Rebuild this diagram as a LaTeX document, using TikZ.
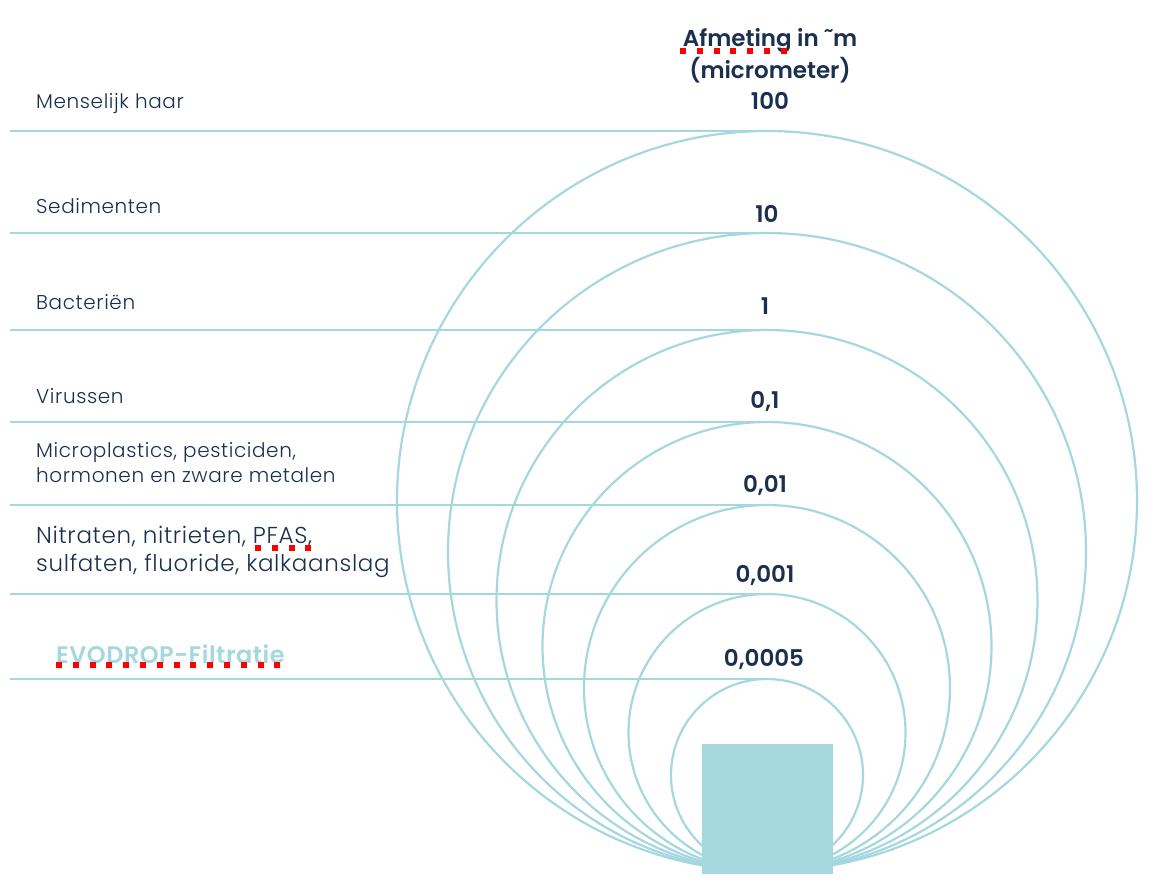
\documentclass[tikz,border=0pt]{standalone}
\usepackage{fontspec}
\setmainfont{Poppins}
\newfontfamily\lightfont[LetterSpace=3]{Poppins Light}
\newfontfamily\boldfont{Poppins SemiBold}
\newfontfamily\evofont[LetterSpace=2]{Poppins SemiBold}
\definecolor{teal}{HTML}{A5D8DE}
\definecolor{navy}{HTML}{1B2F4E}
\definecolor{spell}{HTML}{FF0000}
\tikzset{
  ring/.style={draw=teal, line width=2.2pt},
  rule/.style={draw=teal, line width=2.6pt},
  lab/.style={anchor=west, text=navy, font=\lightfont\fontsize{20}{25}\selectfont, align=left, inner sep=0pt},
  num/.style={text=navy, font=\boldfont\fontsize{23}{28}\selectfont, inner sep=0pt},
  spellmark/.style={draw=spell, line width=6pt, dash pattern=on 6pt off 10.8pt}
}
\begin{document}
\begin{tikzpicture}[x=1pt,y=-1pt]
\useasboundingbox (0,0) rectangle (1154,892);
% circles
\foreach \t/\n in {131/c1,233/c2,330/c3,422/c4,505/c5,594/c6,679/c7}{
  \pgfmathsetmacro{\r}{(871-\t)/2}
  \draw[ring] (767,\t+\r) circle [radius=\r];
  \coordinate (top\n) at (767,\t);
  \coordinate (left\n) at (10,\t);
  \draw[rule] (left\n) -- (top\n);
}
\node[fill=teal, minimum width=131pt, minimum height=130pt, inner sep=0pt] (sq) at (767.5,809) {};
% header
\node[num, align=center, font=\boldfont\fontsize{23}{32}\selectfont] (hdr) at (770,56) {Afmeting in \char"02DC m\\(micrometer)};
% numbers
\node[num] (n1) at (770,101) {100};
\node[num] (n2) at (767,214) {10};
\node[num] (n3) at (765,306) {1};
\node[num] (n4) at (765,401) {0,1};
\node[num] (n5) at (765,485) {0,01};
\node[num] (n6) at (765,575) {0,001};
\node[num] (n7) at (764,659) {0,0005};
% labels
\node[lab] (l1) at (36,104) {Menselijk haar};
\node[lab] (l2) at (36,206) {Sedimenten};
\node[lab] (l3) at (36,302) {Bacteriën};
\node[lab] (l4) at (36,396) {Virussen};
\node[lab] (l5) at (36,463) {Microplastics, pesticiden,\\hormonen en zware metalen};
\node[lab, font=\lightfont\fontsize{23}{28}\selectfont] (l6) at (36,552) {Nitraten, nitrieten, PFAS,\\sulfaten, fluoride, kalkaanslag};
\node[anchor=west, inner sep=0pt, text=teal, font=\evofont\fontsize{24}{28}\selectfont] (l7) at (56,654) {EVODROP-Filtratie};
% spell-check marks
\draw[spellmark] (680,51) -- (788,51);
\draw[spellmark] (255,548) -- (312,548);
\draw[spellmark] (56,665) -- (282,665);
\end{tikzpicture}
\end{document}
